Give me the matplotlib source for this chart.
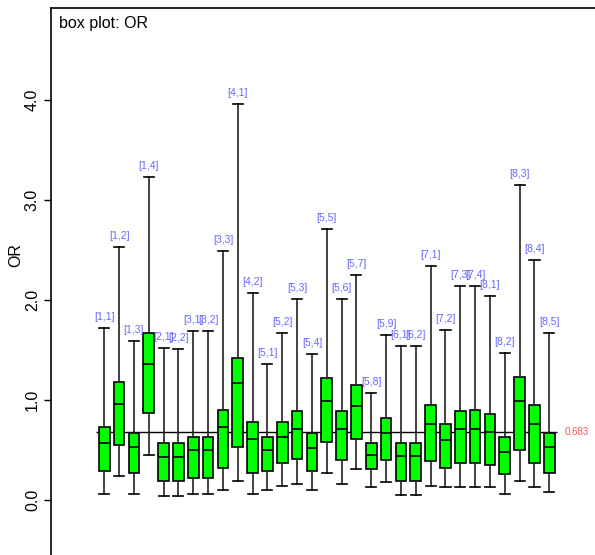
import matplotlib
matplotlib.use("Agg")
from matplotlib import pyplot as plt

plt.rcParams['font.family'] = ['Liberation Sans', 'DejaVu Sans']

# one entry per box, left to right
labels = ["[1,1]", "[1,2]", "[1,3]", "[1,4]", "[2,1]", "[2,2]", "[3,1]", "[3,2]",
          "[3,3]", "[4,1]", "[4,2]", "[5,1]", "[5,2]", "[5,3]", "[5,4]", "[5,5]",
          "[5,6]", "[5,7]", "[5,8]", "[5,9]", "[6,1]", "[6,2]", "[7,1]", "[7,2]",
          "[7,3]", "[7,4]", "[8,1]", "[8,2]", "[8,3]", "[8,4]", "[8,5]"]
whisker_low = [0.06, 0.24, 0.06, 0.45, 0.04, 0.04, 0.06, 0.06, 0.10, 0.19, 0.06,
               0.10, 0.14, 0.16, 0.10, 0.27, 0.16, 0.31, 0.13, 0.18, 0.05, 0.05,
               0.14, 0.13, 0.13, 0.13, 0.13, 0.06, 0.19, 0.13, 0.08]
q1 = [0.29, 0.55, 0.27, 0.87, 0.19, 0.19, 0.22, 0.22, 0.32, 0.53, 0.27,
      0.29, 0.37, 0.41, 0.29, 0.58, 0.40, 0.61, 0.31, 0.40, 0.19, 0.19,
      0.39, 0.32, 0.37, 0.37, 0.35, 0.26, 0.50, 0.37, 0.27]
median = [0.57, 0.96, 0.53, 1.36, 0.43, 0.43, 0.50, 0.50, 0.73, 1.17, 0.61,
          0.50, 0.63, 0.71, 0.52, 0.99, 0.71, 0.94, 0.45, 0.67, 0.44, 0.44,
          0.76, 0.60, 0.71, 0.71, 0.68, 0.48, 0.99, 0.76, 0.53]
q3 = [0.73, 1.18, 0.67, 1.67, 0.57, 0.57, 0.63, 0.63, 0.90, 1.42, 0.78,
      0.63, 0.78, 0.89, 0.67, 1.22, 0.89, 1.15, 0.57, 0.82, 0.57, 0.57,
      0.95, 0.76, 0.89, 0.90, 0.86, 0.63, 1.23, 0.95, 0.67]
whisker_high = [1.72, 2.53, 1.59, 3.23, 1.52, 1.51, 1.69, 1.69, 2.49, 3.96, 2.07,
                1.36, 1.67, 2.01, 1.46, 2.71, 2.01, 2.25, 1.07, 1.65, 1.54, 1.54,
                2.34, 1.70, 2.14, 2.14, 2.04, 1.47, 3.15, 2.40, 1.67]
ref_value = 0.683
yticks = [0.0, 1.0, 2.0, 3.0, 4.0]

W, H = 595, 555
fig = plt.figure(figsize=(W / 100, H / 100), dpi=100)
ax = fig.add_axes([51 / W, 0, 1 - 51 / W, 1 - 8 / H])

stats = []
for i in range(len(labels)):
    stats.append({"label": labels[i], "whislo": whisker_low[i], "q1": q1[i],
                  "med": median[i], "q3": q3[i], "whishi": whisker_high[i],
                  "fliers": []})
pos = list(range(1, len(labels) + 1))

ax.bxp(stats, positions=pos, widths=0.72, patch_artist=True, showfliers=False,
       boxprops=dict(facecolor="#00ff00", edgecolor="black", linewidth=1.2),
       medianprops=dict(color="black", linewidth=1.2),
       whiskerprops=dict(color="#222222", linewidth=1.2),
       capprops=dict(color="black", linewidth=1.2), capwidths=0.68,
       zorder=3)

ax.hlines(ref_value, 0.45, len(labels) + 0.5, color="black", linewidth=1.0, zorder=2)
ax.text(len(labels) + 1.05, ref_value, "%.3f" % ref_value, color="#ff5555",
        fontsize=7, ha="left", va="center")

for p, top, lab in zip(pos, whisker_high, labels):
    ax.text(p, top + 0.06, lab, color="#6666ff", fontsize=7.5, ha="center", va="bottom")

ax.set_xlim(-2.59, 34.08)
ax.set_ylim(-0.55, 4.92)
ax.set_yticks(yticks)
ax.set_yticklabels(["%.1f" % v for v in yticks], rotation=90, va="center", fontsize=11.5)
ax.tick_params(axis="y", length=5, width=1, pad=3)
ax.set_xticks([])
for side in ("right", "bottom"):
    ax.spines[side].set_visible(False)
for side in ("left", "top"):
    ax.spines[side].set_linewidth(1.2)

ax.text(0.015, 0.985, "box plot: OR", transform=ax.transAxes, fontsize=11.5,
        ha="left", va="top")
fig.text(16 / W, 1 - 255 / H, "OR", rotation=90, fontsize=11.5, ha="center", va="center")

fig.savefig("out.png", dpi=100)
